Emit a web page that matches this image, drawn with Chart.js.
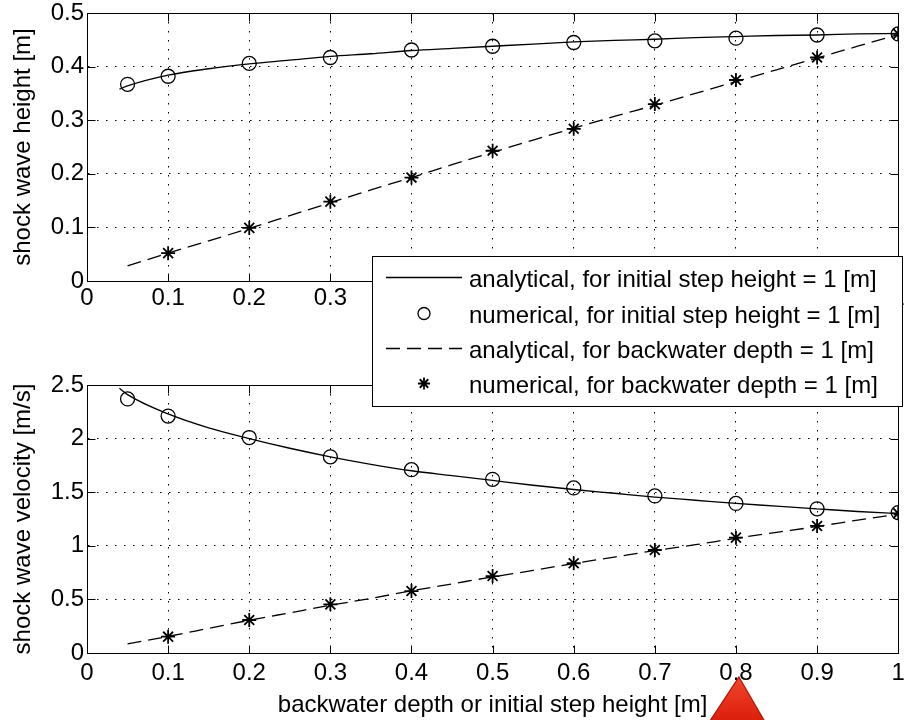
<!DOCTYPE html>
<html>
<head>
<meta charset="utf-8">
<script src="https://cdn.jsdelivr.net/npm/chart.js@4.4.1/dist/chart.umd.min.js"></script>
<style>
  html, body { margin: 0; padding: 0; background: #fff; }
  #wrap { position: relative; width: 907px; height: 720px; }
  #wrap canvas { position: absolute; left: 0; top: 0; }
  #heightChart { z-index: 2; }
  #velocityChart { z-index: 1; }
</style>
</head>
<body>
<div id="wrap">
  <canvas id="velocityChart" width="907" height="720"></canvas>
  <canvas id="heightChart" width="907" height="720"></canvas>
</div>
<script>
// ===== Dados =====
const xTicks = [0, 0.1, 0.2, 0.3, 0.4, 0.5, 0.6, 0.7, 0.8, 0.9, 1];
const heightTicks = [0, 0.1, 0.2, 0.3, 0.4, 0.5];
const velocityTicks = [0, 0.5, 1, 1.5, 2, 2.5];

// curvas analíticas
const xSolid = [0.04, 0.05, 0.1, 0.15, 0.2, 0.25, 0.3, 0.35, 0.4, 0.45, 0.5, 0.55, 0.6, 0.65, 0.7, 0.75, 0.8, 0.85, 0.9, 0.95, 1];
const xDashed = [0.05, 0.1, 0.15, 0.2, 0.25, 0.3, 0.35, 0.4, 0.45, 0.5, 0.55, 0.6, 0.65, 0.7, 0.75, 0.8, 0.85, 0.9, 0.95, 1];

const heightAnalyticStep = [0.358, 0.364, 0.384, 0.396, 0.405, 0.412, 0.419, 0.424, 0.430, 0.434, 0.438, 0.442, 0.446, 0.449, 0.451, 0.454, 0.456, 0.458, 0.459, 0.461, 0.462];
const heightAnalyticBack = [0.028, 0.052, 0.075, 0.098, 0.122, 0.146, 0.170, 0.193, 0.217, 0.240, 0.263, 0.285, 0.307, 0.328, 0.350, 0.372, 0.394, 0.416, 0.438, 0.460];
const velocityAnalyticStep = [2.47, 2.41, 2.23, 2.10, 2.00, 1.91, 1.83, 1.76, 1.70, 1.655, 1.61, 1.565, 1.525, 1.49, 1.455, 1.425, 1.395, 1.37, 1.345, 1.32, 1.30];
const velocityAnalyticBack = [0.085, 0.155, 0.23, 0.305, 0.375, 0.445, 0.51, 0.58, 0.645, 0.71, 0.77, 0.835, 0.895, 0.955, 1.01, 1.07, 1.125, 1.18, 1.24, 1.295];

// pontos numéricos
const xCircles = [0.05, 0.1, 0.2, 0.3, 0.4, 0.5, 0.6, 0.7, 0.8, 0.9, 1];
const xStars = [0.1, 0.2, 0.3, 0.4, 0.5, 0.6, 0.7, 0.8, 0.9, 1];

const heightNumericStep = [0.367, 0.382, 0.406, 0.417, 0.431, 0.438, 0.445, 0.448, 0.453, 0.459, 0.461];
const heightNumericBack = [0.052, 0.099, 0.148, 0.193, 0.243, 0.284, 0.330, 0.375, 0.417, 0.461];
const velocityNumericStep = [2.37, 2.21, 2.01, 1.83, 1.71, 1.62, 1.54, 1.465, 1.395, 1.345, 1.31];
const velocityNumericBack = [0.152, 0.308, 0.454, 0.578, 0.718, 0.837, 0.961, 1.076, 1.185, 1.303];

const legendLabels = [
  'analytical, for initial step height = 1 [m]',
  'numerical, for initial step height = 1 [m]',
  'analytical, for backwater depth = 1 [m]',
  'numerical, for backwater depth = 1 [m]'
];

const FONT = '"Liberation Sans", Arial, Helvetica, sans-serif';
const FONT_SIZE = 24;
const DASH = [14, 7];

const toPoints = (xs, ys) => xs.map((x, i) => ({ x: x, y: ys[i] }));

function makeDatasets(solid, dashed, circles, stars) {
  return [
    { label: legendLabels[0], data: toPoints(xSolid, solid), showLine: true, pointRadius: 0,
      borderColor: '#000', borderWidth: 1.3, cubicInterpolationMode: 'monotone' },
    { label: legendLabels[2], data: toPoints(xDashed, dashed), showLine: true, pointRadius: 0,
      borderColor: '#000', borderWidth: 1.3, borderDash: DASH, cubicInterpolationMode: 'monotone' },
    { label: legendLabels[1], data: toPoints(xCircles, circles), showLine: false, pointStyle: 'circle',
      pointRadius: 7, borderColor: '#000', backgroundColor: 'rgba(0,0,0,0)', borderWidth: 1.3 },
    { label: legendLabels[3], data: toPoints(xStars, stars), showLine: false, pointStyle: 'star',
      pointRadius: 7, borderColor: '#000', backgroundColor: '#000', borderWidth: 1.8 }
  ];
}

// ===== Caixa estilo MATLAB com ticks para dentro nos 4 lados =====
const boxPlugin = {
  id: 'matlabBox',
  beforeDatasetsDraw(chart) {
    const { ctx, chartArea: a, scales } = chart;
    const L = Math.round(a.left) + 0.5, R = Math.round(a.right) + 0.5;
    const T = Math.round(a.top) + 0.5, B = Math.round(a.bottom) + 0.5;
    const tl = 8;
    ctx.save();
    ctx.strokeStyle = '#000';
    ctx.lineWidth = 1;
    ctx.setLineDash([]);
    ctx.strokeRect(L, T, R - L, B - T);
    ctx.beginPath();
    scales.x.ticks.forEach(t => {
      const px = Math.round(scales.x.getPixelForValue(t.value)) + 0.5;
      ctx.moveTo(px, B); ctx.lineTo(px, B - tl);
      ctx.moveTo(px, T); ctx.lineTo(px, T + tl);
    });
    scales.y.ticks.forEach(t => {
      const py = Math.round(scales.y.getPixelForValue(t.value)) + 0.5;
      ctx.moveTo(L, py); ctx.lineTo(L + tl, py);
      ctx.moveTo(R, py); ctx.lineTo(R - tl, py);
    });
    ctx.stroke();
    ctx.restore();
  }
};

// ===== Legenda desenhada sobre os dois gráficos =====
const legendPlugin = {
  id: 'floatingLegend',
  afterDraw(chart) {
    const { ctx } = chart;
    const box = { left: 372.5, top: 256.5, right: 902.5, bottom: 406.5 };
    const baselines = [287, 323, 358, 393];
    ctx.save();
    ctx.fillStyle = '#fff';
    ctx.fillRect(box.left, box.top, box.right - box.left, box.bottom - box.top);
    ctx.strokeStyle = '#000';
    ctx.lineWidth = 1;
    ctx.strokeRect(box.left, box.top, box.right - box.left, box.bottom - box.top);

    const order = [0, 2, 1, 3]; // índice do dataset em cada linha da legenda
    order.forEach((di, row) => {
      const ds = chart.data.datasets[di];
      const yMid = baselines[row] - 9.5;
      ctx.strokeStyle = '#000';
      ctx.fillStyle = '#000';
      if (ds.showLine) {
        ctx.lineWidth = 1.3;
        ctx.setLineDash(ds.borderDash || []);
        ctx.beginPath();
        ctx.moveTo(386, yMid);
        ctx.lineTo(462, yMid);
        ctx.stroke();
        ctx.setLineDash([]);
      } else if (ds.pointStyle === 'circle') {
        ctx.lineWidth = 1.3;
        ctx.beginPath();
        ctx.arc(424, yMid, 6, 0, Math.PI * 2);
        ctx.stroke();
      } else {
        ctx.lineWidth = 1.8;
        const r = 6;
        ctx.beginPath();
        ctx.moveTo(424 - r, yMid); ctx.lineTo(424 + r, yMid);
        ctx.moveTo(424, yMid - r); ctx.lineTo(424, yMid + r);
        const d = r * 0.707;
        ctx.moveTo(424 - d, yMid - d); ctx.lineTo(424 + d, yMid + d);
        ctx.moveTo(424 - d, yMid + d); ctx.lineTo(424 + d, yMid - d);
        ctx.stroke();
      }
      ctx.font = FONT_SIZE + 'px ' + FONT;
      ctx.textAlign = 'left';
      ctx.textBaseline = 'alphabetic';
      ctx.fillStyle = '#000';
      ctx.fillText(ds.label, 469, baselines[row]);
    });
    ctx.restore();
  }
};

// ===== Seta vermelha sob o tick 0.8 =====
const arrowPlugin = {
  id: 'redArrow',
  afterDraw(chart) {
    const { ctx, scales } = chart;
    const cx = scales.x.getPixelForValue(0.8) + 3;
    const top = 677;
    const g = ctx.createLinearGradient(0, top, 0, 720);
    g.addColorStop(0, '#f2452c');
    g.addColorStop(1, '#dc1f0c');
    ctx.save();
    ctx.beginPath();
    ctx.moveTo(cx, top);
    ctx.lineTo(cx + 29, top + 50);
    ctx.lineTo(cx - 33, top + 50);
    ctx.closePath();
    ctx.fillStyle = g;
    ctx.fill();
    ctx.strokeStyle = '#a8180a';
    ctx.lineWidth = 1.2;
    ctx.stroke();
    ctx.restore();
  }
};

function axisOptions(ticks, min, max, extra) {
  return Object.assign({
    type: 'linear',
    min: min,
    max: max,
    afterBuildTicks: s => { s.ticks = ticks.map(v => ({ value: v })); },
    ticks: {
      callback: v => String(v),
      color: '#000',
      font: { family: FONT, size: FONT_SIZE },
      autoSkip: false,
      maxRotation: 0
    },
    grid: { color: '#000', lineWidth: 1, drawTicks: false },
    border: { display: true, color: '#000', width: 1, dash: [1.5, 7.5] }
  }, extra);
}

function makeChart(canvasId, cfg) {
  return new Chart(document.getElementById(canvasId), {
    type: 'scatter',
    data: { datasets: cfg.datasets },
    options: {
      responsive: false,
      animation: false,
      devicePixelRatio: 1,
      layout: { padding: { top: cfg.top, right: 5, left: 0, bottom: 0 } },
      plugins: { legend: { display: false }, tooltip: { enabled: false } },
      events: [],
      scales: {
        x: axisOptions(xTicks, 0, 1, {
          afterFit: s => { s.height = 720 - cfg.bottom; s.paddingLeft = 0; s.paddingRight = 0; },
          ticks: {
            callback: v => String(v),
            color: '#000',
            font: { family: FONT, size: FONT_SIZE },
            autoSkip: false,
            maxRotation: 0,
            padding: cfg.xPad
          },
          title: cfg.xTitle ? {
            display: true, text: cfg.xTitle, color: '#000',
            font: { family: FONT, size: FONT_SIZE }, padding: { top: 0, bottom: 0 }
          } : { display: false }
        }),
        y: axisOptions(cfg.yTicks, cfg.yTicks[0], cfg.yTicks[cfg.yTicks.length - 1], {
          afterFit: s => { s.width = 87; s.paddingTop = 0; s.paddingBottom = 0; },
          title: {
            display: true, text: cfg.yTitle, color: '#000',
            font: { family: FONT, size: FONT_SIZE }, padding: { top: 9, bottom: 0 }
          }
        })
      }
    },
    plugins: cfg.plugins
  });
}

// gráfico de baixo: velocidade
makeChart('velocityChart', {
  datasets: makeDatasets(velocityAnalyticStep, velocityAnalyticBack, velocityNumericStep, velocityNumericBack),
  top: 385, bottom: 653, xPad: 6,
  yTicks: velocityTicks,
  yTitle: 'shock wave velocity [m/s]',
  xTitle: 'backwater depth or initial step height [m]',
  plugins: [boxPlugin, arrowPlugin]
});

// gráfico de cima: altura
makeChart('heightChart', {
  datasets: makeDatasets(heightAnalyticStep, heightAnalyticBack, heightNumericStep, heightNumericBack),
  top: 13, bottom: 281, xPad: 3,
  yTicks: heightTicks,
  yTitle: 'shock wave height [m]',
  xTitle: null,
  plugins: [boxPlugin, legendPlugin]
});
</script>
</body>
</html>
